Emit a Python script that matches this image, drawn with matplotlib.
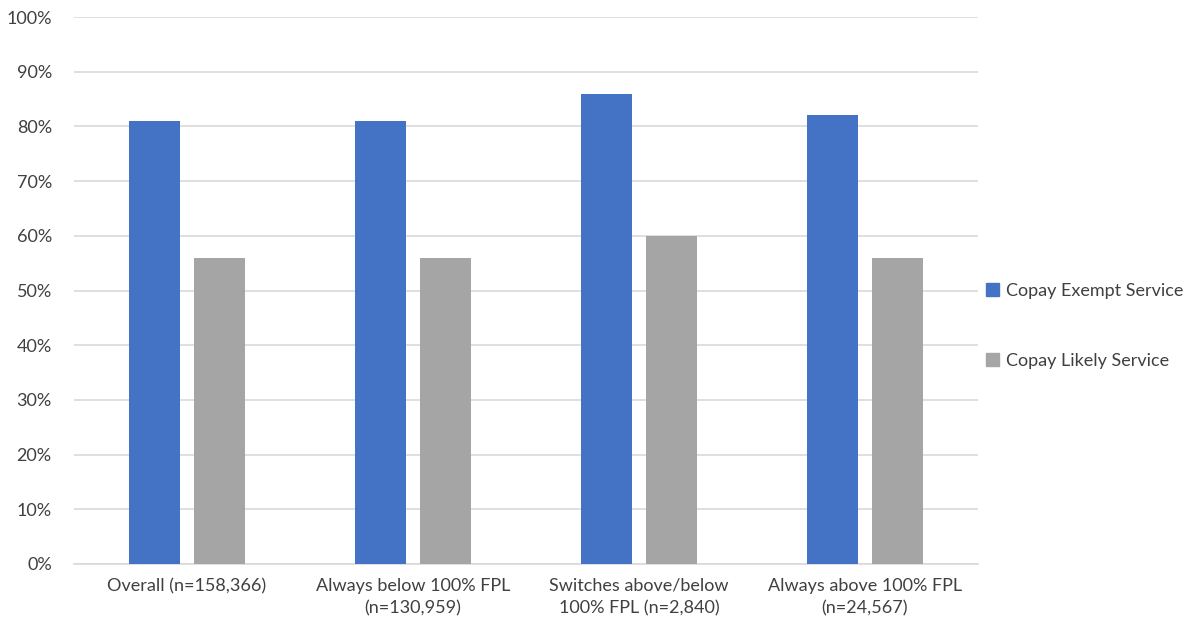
import matplotlib
matplotlib.use("Agg")
import matplotlib.pyplot as plt
import numpy as np
from matplotlib.patches import Patch

categories = ["Overall (n=158,366)", "Always below 100% FPL\n(n=130,959)",
              "Switches above/below\n100% FPL (n=2,840)", "Always above 100% FPL\n(n=24,567)"]
series_names = ["Copay Exempt Service", "Copay Likely Service"]
exempt = [81, 81, 86, 82]
likely = [56, 56, 60, 56]
yticks = [0, 10, 20, 30, 40, 50, 60, 70, 80, 90, 100]
colors = ["#4472C4", "#A5A5A5"]

plt.rcParams['font.family'] = ['Lato', 'DejaVu Sans']
fig = plt.figure(figsize=(11.88, 6.3), dpi=100)
ax = fig.add_axes([74/1188, (630-564)/630, (978-74)/1188, (564-17)/630])

x = np.arange(len(categories))
w = 0.225
gap = 0.062
ax.bar(x - (w+gap)/2, exempt, w, color=colors[0], zorder=3)
ax.bar(x + (w+gap)/2, likely, w, color=colors[1], zorder=3)

fs = 13
ax.set_xlim(-0.5, len(categories)-0.5)
ax.set_ylim(0, 100)
ax.set_yticks(yticks)
ax.set_yticklabels([f"{t}%" for t in yticks], fontsize=fs, color="#404040")
ax.set_xticks(x)
ax.set_xticklabels(categories, fontsize=fs, color="#404040", linespacing=1.5)
ax.tick_params(axis='both', length=0)
ax.tick_params(axis='y', pad=16)
ax.tick_params(axis='x', pad=10)
ax.grid(axis='y', color="#D9D9D9", linewidth=1.2, zorder=0)
for s in ['top', 'right', 'left']:
    ax.spines[s].set_visible(False)
ax.spines['bottom'].set_color("#D9D9D9")
ax.spines['bottom'].set_linewidth(1.2)

handles = [Patch(color=c) for c in colors]
fig.legend(handles, series_names, loc='center left', bbox_to_anchor=(970/1188, (630-326)/630),
           frameon=False, fontsize=fs, labelcolor="#404040",
           handlelength=0.7, handleheight=0.7, handletextpad=0.4, labelspacing=3.0)

fig.savefig("out.png", dpi=100)
